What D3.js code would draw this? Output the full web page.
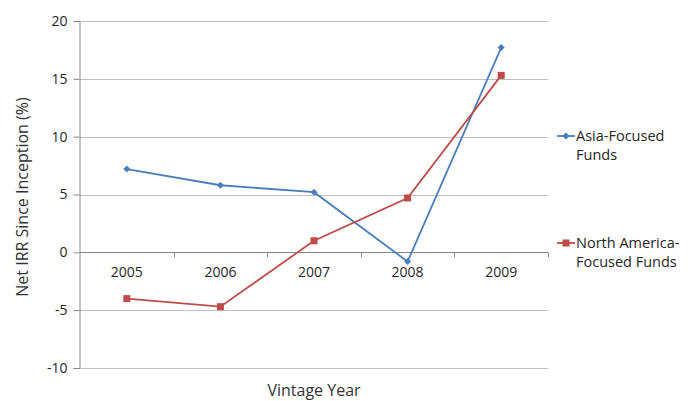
<!DOCTYPE html>
<html>
<head>
<meta charset="utf-8">
<script src="https://cdn.jsdelivr.net/npm/d3@7"></script>
<style>
  html, body { margin: 0; padding: 0; background: #fff; }
  svg { display: block; font-family: "Open Sans", "Noto Sans", sans-serif; }
</style>
</head>
<body>
<svg id="chart" width="696" height="401"></svg>
<script>
// Vintage years and net IRR since inception (%) for each fund group
const years = ["2005", "2006", "2007", "2008", "2009"];
const asiaFocused = [7.2, 5.8, 5.2, -0.8, 17.7];
const northAmericaFocused = [-4.0, -4.7, 1.0, 4.7, 15.3];
const yTicks = [-10, -5, 0, 5, 10, 15, 20];

const series = [
  { name: ["Asia-Focused", "Funds"], values: asiaFocused, color: "#4a7ebb", marker: "diamond" },
  { name: ["North America-", "Focused Funds"], values: northAmericaFocused, color: "#be4b48", marker: "square" }
];

const svg = d3.select("#chart");
const plot = { left: 80, right: 548, top: 21, bottom: 368 };
const textColor = "#262626";
const gridColor = "#bfbfbf";
const axisColor = "#868686";
const fontFamily = "'Open Sans', 'Noto Sans', sans-serif";

const x = d3.scaleBand().domain(years).range([plot.left, plot.right]);
const y = d3.scaleLinear().domain([-10, 20]).range([plot.bottom, plot.top]);

// horizontal gridlines
svg.append("g")
  .selectAll("line")
  .data(yTicks.filter(t => t !== 0))
  .join("line")
  .attr("x1", plot.left).attr("x2", plot.right)
  .attr("y1", d => Math.round(y(d)) + 0.5).attr("y2", d => Math.round(y(d)) + 0.5)
  .attr("stroke", gridColor).attr("stroke-width", 1);

// y axis
const yAxis = svg.append("g")
  .attr("transform", `translate(${plot.left - 0.5},0)`)
  .call(d3.axisLeft(y).tickValues(yTicks).tickSize(6).tickPadding(6).tickFormat(d => String(d)));
yAxis.select(".domain").attr("stroke", axisColor);
yAxis.selectAll(".tick line").attr("stroke", axisColor);
yAxis.selectAll(".tick text")
  .attr("fill", textColor).attr("font-size", 14).attr("font-family", fontFamily);

// category axis along the zero line, ticks between categories
const zeroY = Math.round(y(0)) + 0.5;
const xAxisG = svg.append("g");
xAxisG.append("line")
  .attr("x1", plot.left).attr("x2", plot.right)
  .attr("y1", zeroY).attr("y2", zeroY)
  .attr("stroke", axisColor);
const boundaries = years.map(d => x(d) + x.bandwidth());
xAxisG.selectAll("line.tick")
  .data(boundaries)
  .join("line")
  .attr("class", "tick")
  .attr("x1", d => Math.round(d) + 0.5).attr("x2", d => Math.round(d) + 0.5)
  .attr("y1", zeroY).attr("y2", zeroY + 5)
  .attr("stroke", axisColor);
xAxisG.selectAll("text")
  .data(years)
  .join("text")
  .attr("x", d => x(d) + x.bandwidth() / 2)
  .attr("y", zeroY + 24)
  .attr("text-anchor", "middle")
  .attr("font-size", 14)
  .attr("fill", textColor)
  .text(d => d);

// axis titles
svg.append("text")
  .attr("transform", `translate(24,197) rotate(-90)`)
  .attr("text-anchor", "middle")
  .attr("dominant-baseline", "middle")
  .attr("font-size", 16)
  .attr("fill", "#333")
  .text("Net IRR Since Inception (%)");

svg.append("text")
  .attr("x", (plot.left + plot.right) / 2)
  .attr("y", 396)
  .attr("text-anchor", "middle")
  .attr("font-size", 16)
  .attr("fill", "#333")
  .text("Vintage Year");

// series lines and markers
const line = d3.line()
  .x((d, i) => x(years[i]) + x.bandwidth() / 2)
  .y(d => y(d));

function drawMarker(g, type, color, cx, cy) {
  if (type === "diamond") {
    g.append("path")
      .attr("d", `M${cx},${cy - 3.5}L${cx + 3.5},${cy}L${cx},${cy + 3.5}L${cx - 3.5},${cy}Z`)
      .attr("fill", color);
  } else {
    g.append("rect")
      .attr("x", cx - 3.5).attr("y", cy - 3.5)
      .attr("width", 7).attr("height", 7)
      .attr("fill", color);
  }
}

series.forEach(s => {
  const g = svg.append("g");
  g.append("path")
    .datum(s.values)
    .attr("d", line)
    .attr("fill", "none")
    .attr("stroke", s.color)
    .attr("stroke-width", 1.8);
  s.values.forEach((v, i) => {
    drawMarker(g, s.marker, s.color, x(years[i]) + x.bandwidth() / 2, y(v));
  });
});

// legend
const legendY = [136, 243];
series.forEach((s, i) => {
  const g = svg.append("g");
  const ly = legendY[i];
  g.append("line")
    .attr("x1", 557).attr("x2", 575)
    .attr("y1", ly).attr("y2", ly)
    .attr("stroke", s.color).attr("stroke-width", 1.8);
  drawMarker(g, s.marker, s.color, 566, ly);
  s.name.forEach((t, j) => {
    g.append("text")
      .attr("x", 576)
      .attr("y", ly + 5 + j * 19)
      .attr("font-size", 14.5)
      .attr("fill", textColor)
      .text(t);
  });
});
</script>
</body>
</html>
